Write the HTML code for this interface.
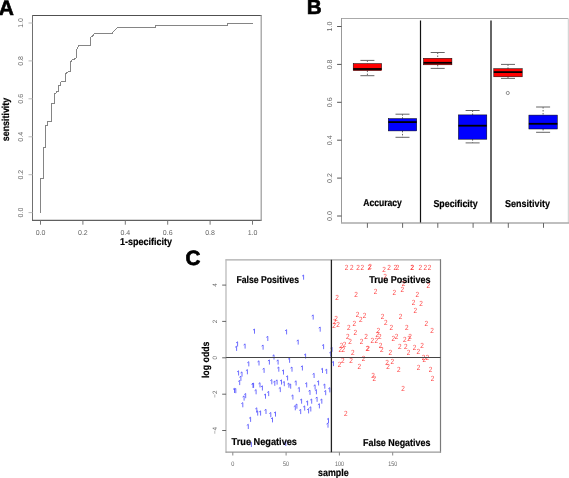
<!DOCTYPE html>
<html><head><meta charset="utf-8"><style>
html,body{margin:0;padding:0;background:#fff;width:569px;height:478px;overflow:hidden}
svg{display:block}
text{font-family:"Liberation Sans", sans-serif;text-rendering:geometricPrecision}
.p2{font-size:7.5px;fill:#ff3c3c;text-anchor:middle}
</style></head><body>
<div style="will-change:transform;width:569px;height:478px"><svg width="569" height="478" viewBox="0 0 569 478">
<rect width="569" height="478" fill="#fff"/>
<text x="-1.3" y="14.5" font-size="21" font-weight="bold" fill="#000" stroke="#000" stroke-width="0.6">A</text>
<path d="M32 15.5 H261.5" stroke="#505050" stroke-width="1"/><path d="M32.5 15 V221" stroke="#707070" stroke-width="1"/><path d="M32 220.4 H261.5" stroke="#606060" stroke-width="1.1"/><path d="M261.2 15 V221" stroke="#9a9a9a" stroke-width="1.2"/>
<line x1="28.5" y1="212.6" x2="32.5" y2="212.6" stroke="#bbb" stroke-width="1"/>
<text transform="translate(23.1 212.6) rotate(-90)" text-anchor="middle" font-size="7" fill="#666">0.0</text>
<line x1="28.5" y1="174.7" x2="32.5" y2="174.7" stroke="#bbb" stroke-width="1"/>
<text transform="translate(23.1 174.7) rotate(-90)" text-anchor="middle" font-size="7" fill="#666">0.2</text>
<line x1="28.5" y1="136.8" x2="32.5" y2="136.8" stroke="#bbb" stroke-width="1"/>
<text transform="translate(23.1 136.8) rotate(-90)" text-anchor="middle" font-size="7" fill="#666">0.4</text>
<line x1="28.5" y1="98.8" x2="32.5" y2="98.8" stroke="#bbb" stroke-width="1"/>
<text transform="translate(23.1 98.8) rotate(-90)" text-anchor="middle" font-size="7" fill="#666">0.6</text>
<line x1="28.5" y1="60.9" x2="32.5" y2="60.9" stroke="#bbb" stroke-width="1"/>
<text transform="translate(23.1 60.9) rotate(-90)" text-anchor="middle" font-size="7" fill="#666">0.8</text>
<line x1="28.5" y1="23.0" x2="32.5" y2="23.0" stroke="#bbb" stroke-width="1"/>
<text transform="translate(23.1 23.0) rotate(-90)" text-anchor="middle" font-size="7" fill="#666">1.0</text>
<line x1="40.5" y1="220.5" x2="40.5" y2="224.7" stroke="#777" stroke-width="1"/>
<text x="40.5" y="234.8" text-anchor="middle" font-size="7" fill="#666">0.0</text>
<line x1="82.9" y1="220.5" x2="82.9" y2="224.7" stroke="#777" stroke-width="1"/>
<text x="82.9" y="234.8" text-anchor="middle" font-size="7" fill="#666">0.2</text>
<line x1="125.3" y1="220.5" x2="125.3" y2="224.7" stroke="#777" stroke-width="1"/>
<text x="125.3" y="234.8" text-anchor="middle" font-size="7" fill="#666">0.4</text>
<line x1="167.7" y1="220.5" x2="167.7" y2="224.7" stroke="#777" stroke-width="1"/>
<text x="167.7" y="234.8" text-anchor="middle" font-size="7" fill="#666">0.6</text>
<line x1="210.1" y1="220.5" x2="210.1" y2="224.7" stroke="#777" stroke-width="1"/>
<text x="210.1" y="234.8" text-anchor="middle" font-size="7" fill="#666">0.8</text>
<line x1="252.5" y1="220.5" x2="252.5" y2="224.7" stroke="#777" stroke-width="1"/>
<text x="252.5" y="234.8" text-anchor="middle" font-size="7" fill="#666">1.0</text>
<polyline points="40.5,212.6 40.5,178.2 43.1,178.2 43.1,147.9 45.4,147.9 45.4,125.6 47.4,125.6 47.4,121.8 51.6,121.8 51.6,103.6 54.5,103.6 54.5,93.6 55.5,93.6 56.9,91.4 58.5,91.3 58.5,85.6 60.6,85.3 61.1,81.5 65.5,81.5 65.5,73.5 67.2,72.6 68.2,71.5 70.2,71.3 70.2,61.8 71.5,61.1 72.4,59.4 74.3,59.2 76.5,57.4 76.5,49.4 77.5,48.4 78.9,45.4 90.4,45.4 90.4,37.3 92.6,35.9 94.7,33.3 112.4,33.3 113.3,31.5 115.2,30.1 117.3,27.4 155.2,27.4 155.2,25.0 227.3,25.0 227.3,23.0 252.5,23.0" fill="none" stroke="#858585" stroke-width="1" shape-rendering="crispEdges"/>
<text transform="translate(8.9 119.5) rotate(-90)" text-anchor="middle" font-size="10.0" font-weight="bold" stroke="#000" stroke-width="0.2" textLength="43.3" lengthAdjust="spacingAndGlyphs">sensitivity</text>
<text x="120.1" y="245.4" font-size="10.0" font-weight="bold" text-anchor="start" stroke="#000" stroke-width="0.2" textLength="52" lengthAdjust="spacingAndGlyphs">1-specificity</text>
<text x="306.8" y="14.4" font-size="20.7" font-weight="bold" fill="#000" stroke="#000" stroke-width="0.6">B</text>
<path d="M341.5 18.5 H568.3" stroke="#aaa" stroke-width="1"/><path d="M341.5 18 V223" stroke="#999" stroke-width="1"/><path d="M568.3 18.5 V223" stroke="#ccc" stroke-width="1"/><path d="M341 223 H569" stroke="#aaa" stroke-width="1.4"/>
<line x1="337.1" y1="216.0" x2="341.5" y2="216.0" stroke="#555" stroke-width="1"/>
<text transform="translate(332.0 216.0) rotate(-90)" text-anchor="middle" font-size="7.1" fill="#666">0.0</text>
<line x1="337.1" y1="178.1" x2="341.5" y2="178.1" stroke="#555" stroke-width="1"/>
<text transform="translate(332.0 178.1) rotate(-90)" text-anchor="middle" font-size="7.1" fill="#666">0.2</text>
<line x1="337.1" y1="140.2" x2="341.5" y2="140.2" stroke="#555" stroke-width="1"/>
<text transform="translate(332.0 140.2) rotate(-90)" text-anchor="middle" font-size="7.1" fill="#666">0.4</text>
<line x1="337.1" y1="102.3" x2="341.5" y2="102.3" stroke="#555" stroke-width="1"/>
<text transform="translate(332.0 102.3) rotate(-90)" text-anchor="middle" font-size="7.1" fill="#666">0.6</text>
<line x1="337.1" y1="64.4" x2="341.5" y2="64.4" stroke="#555" stroke-width="1"/>
<text transform="translate(332.0 64.4) rotate(-90)" text-anchor="middle" font-size="7.1" fill="#666">0.8</text>
<line x1="337.1" y1="26.5" x2="341.5" y2="26.5" stroke="#555" stroke-width="1"/>
<text transform="translate(332.0 26.5) rotate(-90)" text-anchor="middle" font-size="7.1" fill="#666">1.0</text>
<line x1="367.4" y1="223" x2="367.4" y2="227.8" stroke="#666" stroke-width="1"/>
<line x1="402.6" y1="223" x2="402.6" y2="227.8" stroke="#666" stroke-width="1"/>
<line x1="437.8" y1="223" x2="437.8" y2="227.8" stroke="#666" stroke-width="1"/>
<line x1="473.1" y1="223" x2="473.1" y2="227.8" stroke="#666" stroke-width="1"/>
<line x1="508.3" y1="223" x2="508.3" y2="227.8" stroke="#666" stroke-width="1"/>
<line x1="543.5" y1="223" x2="543.5" y2="227.8" stroke="#666" stroke-width="1"/>
<line x1="420.5" y1="20.5" x2="420.5" y2="222.5" stroke="#111" stroke-width="1.2"/>
<line x1="491" y1="20.5" x2="491" y2="222.5" stroke="#666" stroke-width="2"/>
<line x1="367.4" y1="60.4" x2="367.4" y2="63.6" stroke="#000" stroke-width="0.6" stroke-dasharray="1.5 1.5"/><line x1="367.4" y1="70.6" x2="367.4" y2="75.7" stroke="#000" stroke-width="0.6" stroke-dasharray="1.5 1.5"/><line x1="360.4" y1="60.4" x2="374.4" y2="60.4" stroke="#666" stroke-width="1"/><line x1="360.4" y1="75.7" x2="374.4" y2="75.7" stroke="#666" stroke-width="1"/><rect x="353.2" y="63.6" width="28.4" height="6.999999999999993" fill="#f00" stroke="#000" stroke-width="0.5"/><line x1="353.2" y1="69.0" x2="381.59999999999997" y2="69.0" stroke="#000" stroke-width="1.8"/>
<line x1="402.5" y1="114.2" x2="402.5" y2="118.6" stroke="#000" stroke-width="0.6" stroke-dasharray="1.5 1.5"/><line x1="402.5" y1="130.9" x2="402.5" y2="137.3" stroke="#000" stroke-width="0.6" stroke-dasharray="1.5 1.5"/><line x1="395.5" y1="114.2" x2="409.5" y2="114.2" stroke="#666" stroke-width="1"/><line x1="395.5" y1="137.3" x2="409.5" y2="137.3" stroke="#666" stroke-width="1"/><rect x="388.3" y="118.6" width="28.4" height="12.300000000000011" fill="#00f" stroke="#000" stroke-width="0.5"/><line x1="388.3" y1="122.1" x2="416.7" y2="122.1" stroke="#000" stroke-width="1.8"/>
<line x1="437.7" y1="52.5" x2="437.7" y2="58.3" stroke="#000" stroke-width="0.6" stroke-dasharray="1.5 1.5"/><line x1="437.7" y1="64.8" x2="437.7" y2="68.4" stroke="#000" stroke-width="0.6" stroke-dasharray="1.5 1.5"/><line x1="430.7" y1="52.5" x2="444.7" y2="52.5" stroke="#666" stroke-width="1"/><line x1="430.7" y1="68.4" x2="444.7" y2="68.4" stroke="#666" stroke-width="1"/><rect x="423.5" y="58.3" width="28.4" height="6.5" fill="#f00" stroke="#000" stroke-width="0.5"/><line x1="423.5" y1="62.8" x2="451.9" y2="62.8" stroke="#000" stroke-width="1.8"/>
<line x1="472.6" y1="110.5" x2="472.6" y2="114.9" stroke="#000" stroke-width="0.6" stroke-dasharray="1.5 1.5"/><line x1="472.6" y1="139.2" x2="472.6" y2="142.9" stroke="#000" stroke-width="0.6" stroke-dasharray="1.5 1.5"/><line x1="465.6" y1="110.5" x2="479.6" y2="110.5" stroke="#666" stroke-width="1"/><line x1="465.6" y1="142.9" x2="479.6" y2="142.9" stroke="#666" stroke-width="1"/><rect x="458.40000000000003" y="114.9" width="28.4" height="24.299999999999983" fill="#00f" stroke="#000" stroke-width="0.5"/><line x1="458.40000000000003" y1="125.7" x2="486.8" y2="125.7" stroke="#000" stroke-width="1.8"/>
<line x1="508.0" y1="64.4" x2="508.0" y2="68.7" stroke="#000" stroke-width="0.6" stroke-dasharray="1.5 1.5"/><line x1="508.0" y1="76.8" x2="508.0" y2="78.4" stroke="#000" stroke-width="0.6" stroke-dasharray="1.5 1.5"/><line x1="501.0" y1="64.4" x2="515.0" y2="64.4" stroke="#666" stroke-width="1"/><line x1="501.0" y1="78.4" x2="515.0" y2="78.4" stroke="#666" stroke-width="1"/><rect x="493.8" y="68.7" width="28.4" height="8.099999999999994" fill="#f00" stroke="#000" stroke-width="0.5"/><line x1="493.8" y1="72.1" x2="522.2" y2="72.1" stroke="#000" stroke-width="1.8"/>
<line x1="543.1" y1="107.0" x2="543.1" y2="115.1" stroke="#000" stroke-width="0.6" stroke-dasharray="1.5 1.5"/><line x1="543.1" y1="129.0" x2="543.1" y2="132.3" stroke="#000" stroke-width="0.6" stroke-dasharray="1.5 1.5"/><line x1="536.1" y1="107.0" x2="550.1" y2="107.0" stroke="#666" stroke-width="1"/><line x1="536.1" y1="132.3" x2="550.1" y2="132.3" stroke="#666" stroke-width="1"/><rect x="528.9" y="115.1" width="28.4" height="13.900000000000006" fill="#00f" stroke="#000" stroke-width="0.5"/><line x1="528.9" y1="123.8" x2="557.3000000000001" y2="123.8" stroke="#000" stroke-width="1.8"/>
<circle cx="507.8" cy="93" r="1.6" fill="none" stroke="#666" stroke-width="0.7"/>
<text x="363.2" y="206.3" font-size="10.0" font-weight="bold" text-anchor="start" stroke="#000" stroke-width="0.2" textLength="38.7" lengthAdjust="spacingAndGlyphs">Accuracy</text>
<text x="433.4" y="206.5" font-size="10.0" font-weight="bold" text-anchor="start" stroke="#000" stroke-width="0.2" textLength="44.3" lengthAdjust="spacingAndGlyphs">Specificity</text>
<text x="505" y="206.5" font-size="10.0" font-weight="bold" text-anchor="start" stroke="#000" stroke-width="0.2" textLength="45" lengthAdjust="spacingAndGlyphs">Sensitivity</text>
<text x="185.4" y="265" font-size="20.7" font-weight="bold" fill="#000" stroke="#000" stroke-width="0.7">C</text>
<path d="M225.6 259.8 H441" stroke="#aaa" stroke-width="1.2"/><path d="M226 259.3 V452.7" stroke="#bbb" stroke-width="1.3"/><path d="M440.5 259.3 V452.7" stroke="#7a7a7a" stroke-width="1.2"/><path d="M225.6 452.1 H441" stroke="#999" stroke-width="1.1"/>
<line x1="222.2" y1="430.5" x2="226.1" y2="430.5" stroke="#555" stroke-width="0.9"/>
<text transform="translate(217.2 430.5) rotate(-90)" text-anchor="middle" font-size="6.3" fill="#666">−4</text>
<line x1="222.2" y1="394.2" x2="226.1" y2="394.2" stroke="#555" stroke-width="0.9"/>
<text transform="translate(217.2 394.2) rotate(-90)" text-anchor="middle" font-size="6.3" fill="#666">−2</text>
<line x1="222.2" y1="357.8" x2="226.1" y2="357.8" stroke="#555" stroke-width="0.9"/>
<text transform="translate(217.2 357.8) rotate(-90)" text-anchor="middle" font-size="6.3" fill="#666">0</text>
<line x1="222.2" y1="321.4" x2="226.1" y2="321.4" stroke="#555" stroke-width="0.9"/>
<text transform="translate(217.2 321.4) rotate(-90)" text-anchor="middle" font-size="6.3" fill="#666">2</text>
<line x1="222.2" y1="285.1" x2="226.1" y2="285.1" stroke="#555" stroke-width="0.9"/>
<text transform="translate(217.2 285.1) rotate(-90)" text-anchor="middle" font-size="6.3" fill="#666">4</text>
<line x1="232.8" y1="452.2" x2="232.8" y2="455.5" stroke="#888" stroke-width="1"/>
<text x="232.8" y="465.9" text-anchor="middle" font-size="6.6" fill="#666" textLength="3.1" lengthAdjust="spacingAndGlyphs">0</text>
<line x1="286.1" y1="452.2" x2="286.1" y2="455.5" stroke="#888" stroke-width="1"/>
<text x="286.1" y="465.9" text-anchor="middle" font-size="6.6" fill="#666" textLength="6.0" lengthAdjust="spacingAndGlyphs">50</text>
<line x1="339.4" y1="452.2" x2="339.4" y2="455.5" stroke="#888" stroke-width="1"/>
<text x="339.4" y="465.9" text-anchor="middle" font-size="6.6" fill="#666" textLength="9.0" lengthAdjust="spacingAndGlyphs">100</text>
<line x1="392.7" y1="452.2" x2="392.7" y2="455.5" stroke="#888" stroke-width="1"/>
<text x="392.7" y="465.9" text-anchor="middle" font-size="6.6" fill="#666" textLength="9.0" lengthAdjust="spacingAndGlyphs">150</text>
<path d="M253.0 330.1L254.5 329.0V333.7M266.3 337.4L267.8 336.3V341.0M236.1 342.9L237.6 341.8V346.5M235.1 347.3L236.6 346.2V350.9M243.6 345.0L245.1 343.9V348.6M261.6 346.1L263.1 345.0V349.7M272.5 355.9L274.0 354.8V359.5M247.3 362.8L248.8 361.7V366.4M257.5 361.9L259.0 360.8V365.5M267.9 361.0L269.4 359.9V364.6M237.1 371.9L238.6 370.8V375.5M240.5 373.0L242.0 371.9V376.6M245.9 370.7L247.4 369.6V374.3M262.6 369.3L264.1 368.2V372.9M239.4 377.3L240.9 376.2V380.9M238.2 381.5L239.7 380.4V385.1M251.5 384.4L253.0 383.3V388.0M252.1 384.2L253.6 383.1V387.8M258.5 383.8L260.0 382.7V387.4M260.9 386.9L262.4 385.8V390.5M270.3 380.7L271.8 379.6V384.3M273.3 382.2L274.8 381.1V385.8M233.0 389.4L234.5 388.3V393.0M234.3 389.6L235.8 388.5V393.2M254.6 390.7L256.1 389.6V394.3M242.6 397.0L244.1 395.9V400.6M244.2 394.6L245.7 393.5V398.2M264.0 395.1L265.5 394.0V398.7M267.2 392.5L268.7 391.4V396.1M241.3 403.7L242.8 402.6V407.3M255.3 408.9L256.8 407.8V412.5M256.2 412.0L257.7 410.9V415.6M259.1 412.0L260.6 410.9V415.6M264.5 410.4L266.0 409.3V414.0M269.3 413.6L270.8 412.5V417.2M274.0 413.0L275.5 411.9V416.6M249.1 418.3L250.6 417.2V421.9M271.0 418.8L272.5 417.7V422.4M246.8 425.4L248.3 424.3V429.0M249.9 443.4L251.4 442.3V447.0M302.1 276.1L303.6 275.0V279.7M311.7 316.0L313.2 314.9V319.6M285.1 330.8L286.6 329.7V334.4M318.7 328.1L320.2 327.0V331.7M296.7 341.0L298.2 339.9V344.6M322.1 345.6L323.6 344.5V349.2M304.1 355.0L305.6 353.9V358.6M288.1 359.2L289.6 358.1V362.8M276.6 361.0L278.1 359.9V364.6M277.3 368.1L278.8 367.0V371.7M282.0 371.0L283.5 369.9V374.6M290.5 368.1L292.0 367.0V371.7M300.9 366.9L302.4 365.8V370.5M286.1 376.9L287.6 375.8V380.5M275.6 381.0L277.1 379.9V384.6M280.0 381.0L281.5 379.9V384.6M282.8 382.6L284.3 381.5V386.2M287.4 384.1L288.9 383.0V387.7M289.2 385.1L290.7 384.0V388.7M294.6 381.9L296.1 380.8V385.5M321.0 369.4L322.5 368.3V373.0M325.2 370.3L326.7 369.2V373.9M312.6 374.4L314.1 373.3V378.0M317.1 381.9L318.6 380.8V385.5M305.2 383.8L306.7 382.7V387.4M323.3 385.1L324.8 384.0V388.7M313.6 385.9L315.1 384.8V389.5M278.8 388.5L280.3 387.4V392.1M297.8 388.5L299.3 387.4V392.1M291.4 396.0L292.9 394.9V399.6M300.1 400.1L301.6 399.0V403.7M293.8 406.7L295.3 405.6V410.3M295.4 405.1L296.9 404.0V408.7M299.2 410.5L300.7 409.4V414.1M314.9 390.7L316.4 389.6V394.3M308.5 391.3L310.0 390.2V394.9M324.2 391.6L325.7 390.5V395.2M328.3 388.8L329.8 387.7V392.4M315.6 398.2L317.1 397.1V401.8M310.2 400.1L311.7 399.0V403.7M306.1 402.0L307.6 400.9V405.6M320.3 400.1L321.8 399.0V403.7M317.9 404.8L319.4 403.7V408.4M303.2 407.0L304.7 405.9V410.6M307.1 409.8L308.6 408.7V413.4M309.3 407.9L310.8 406.8V411.5M327.0 419.4L328.5 418.3V423.0M326.5 424.1L328.0 423.0V427.7M284.3 442.4L285.8 441.3V446.0M330.5 348.2L332.0 347.1V351.8M329.3 352.9L330.8 351.8V356.5M332.0 362.5L333.5 361.4V366.1" fill="none" stroke="#4a4aff" stroke-width="0.8"/>
<g transform="scale(0.86 1)"><text x="402.9" y="269.9" class="p2">2</text><text x="409.0" y="269.9" class="p2">2</text><text x="416.2" y="269.9" class="p2">2</text><text x="421.3" y="269.9" class="p2">2</text><text x="429.4" y="269.6" class="p2">2</text><text x="430.2" y="269.4" class="p2">2</text><text x="446.6" y="271.9" class="p2">2</text><text x="452.3" y="269.6" class="p2">2</text><text x="459.7" y="269.6" class="p2">2</text><text x="462.3" y="269.6" class="p2">2</text><text x="479.0" y="269.6" class="p2">2</text><text x="479.5" y="269.5" class="p2">2</text><text x="488.6" y="269.6" class="p2">2</text><text x="494.5" y="269.6" class="p2">2</text><text x="499.4" y="269.6" class="p2">2</text><text x="447.6" y="279.0" class="p2">2</text><text x="436.6" y="293.7" class="p2">2</text><text x="458.5" y="294.9" class="p2">2</text><text x="467.7" y="291.6" class="p2">2</text><text x="469.2" y="285.5" class="p2">2</text><text x="498.1" y="288.2" class="p2">2</text><text x="485.2" y="296.7" class="p2">2</text><text x="391.9" y="299.9" class="p2">2</text><text x="414.1" y="296.6" class="p2">2</text><text x="415.8" y="317.0" class="p2">2</text><text x="419.4" y="321.8" class="p2">2</text><text x="424.0" y="317.9" class="p2">2</text><text x="390.7" y="320.8" class="p2">2</text><text x="389.4" y="323.9" class="p2">2</text><text x="388.3" y="327.8" class="p2">2</text><text x="393.1" y="326.8" class="p2">2</text><text x="405.6" y="330.2" class="p2">2</text><text x="412.1" y="325.7" class="p2">2</text><text x="413.1" y="334.8" class="p2">2</text><text x="444.9" y="318.7" class="p2">2</text><text x="465.8" y="318.7" class="p2">2</text><text x="448.5" y="324.8" class="p2">2</text><text x="455.1" y="330.0" class="p2">2</text><text x="439.9" y="333.2" class="p2">2</text><text x="473.0" y="329.9" class="p2">2</text><text x="480.9" y="304.9" class="p2">2</text><text x="489.7" y="305.8" class="p2">2</text><text x="483.0" y="312.6" class="p2">2</text><text x="495.7" y="325.8" class="p2">2</text><text x="502.4" y="333.2" class="p2">2</text><text x="404.3" y="338.6" class="p2">2</text><text x="407.1" y="343.6" class="p2">2</text><text x="420.3" y="343.6" class="p2">2</text><text x="425.7" y="338.6" class="p2">2</text><text x="400.5" y="346.5" class="p2">2</text><text x="397.1" y="348.2" class="p2">2</text><text x="399.3" y="352.0" class="p2">2</text><text x="395.6" y="352.4" class="p2">2</text><text x="427.2" y="351.1" class="p2">2</text><text x="428.1" y="350.7" class="p2">2</text><text x="410.3" y="354.9" class="p2">2</text><text x="422.8" y="360.7" class="p2">2</text><text x="398.5" y="362.8" class="p2">2</text><text x="408.3" y="362.8" class="p2">2</text><text x="394.7" y="367.4" class="p2">2</text><text x="417.8" y="368.7" class="p2">2</text><text x="438.6" y="337.3" class="p2">2</text><text x="441.5" y="339.4" class="p2">2</text><text x="432.8" y="343.2" class="p2">2</text><text x="437.7" y="342.8" class="p2">2</text><text x="457.3" y="340.7" class="p2">2</text><text x="461.2" y="338.6" class="p2">2</text><text x="470.7" y="341.5" class="p2">2</text><text x="442.6" y="347.8" class="p2">2</text><text x="444.0" y="351.5" class="p2">2</text><text x="464.9" y="348.6" class="p2">2</text><text x="472.0" y="349.4" class="p2">2</text><text x="453.7" y="354.9" class="p2">2</text><text x="450.1" y="364.5" class="p2">2</text><text x="456.2" y="363.7" class="p2">2</text><text x="451.3" y="368.7" class="p2">2</text><text x="475.6" y="340.7" class="p2">2</text><text x="476.7" y="338.6" class="p2">2</text><text x="475.0" y="354.5" class="p2">2</text><text x="482.1" y="349.9" class="p2">2</text><text x="486.3" y="353.6" class="p2">2</text><text x="490.8" y="348.2" class="p2">2</text><text x="492.6" y="359.5" class="p2">2</text><text x="497.0" y="359.5" class="p2">2</text><text x="493.5" y="362.4" class="p2">2</text><text x="486.7" y="369.7" class="p2">2</text><text x="463.8" y="371.6" class="p2">2</text><text x="433.7" y="377.7" class="p2">2</text><text x="435.1" y="380.8" class="p2">2</text><text x="468.6" y="390.7" class="p2">2</text><text x="500.6" y="372.2" class="p2">2</text><text x="503.0" y="380.8" class="p2">2</text><text x="402.0" y="416.0" class="p2">2</text></g>
<line x1="226.1" y1="357.5" x2="440.5" y2="357.5" stroke="#444" stroke-width="1.2"/>
<line x1="331.4" y1="259.8" x2="331.4" y2="452.2" stroke="#222" stroke-width="1.3"/>
<text x="236.4" y="282.7" font-size="10.0" font-weight="bold" text-anchor="start" stroke="#000" stroke-width="0.2" textLength="62.6" lengthAdjust="spacingAndGlyphs">False Positives</text>
<text x="369.2" y="282.9" font-size="10.0" font-weight="bold" text-anchor="start" stroke="#000" stroke-width="0.2" textLength="61.3" lengthAdjust="spacingAndGlyphs">True Positives</text>
<text x="231.6" y="444.9" font-size="10.0" font-weight="bold" text-anchor="start" stroke="#000" stroke-width="0.2" textLength="65.4" lengthAdjust="spacingAndGlyphs">True Negatives</text>
<text x="363" y="445.6" font-size="10.0" font-weight="bold" text-anchor="start" stroke="#000" stroke-width="0.2" textLength="67.4" lengthAdjust="spacingAndGlyphs">False Negatives</text>
<text transform="translate(208.6 359.8) rotate(-90)" text-anchor="middle" font-size="10.0" font-weight="bold" stroke="#000" stroke-width="0.2" textLength="36.6" lengthAdjust="spacingAndGlyphs">log odds</text>
<text x="318.1" y="475.6" font-size="10.0" font-weight="bold" text-anchor="start" stroke="#000" stroke-width="0.2" textLength="30.6" lengthAdjust="spacingAndGlyphs">sample</text>
</svg></div></body></html>
